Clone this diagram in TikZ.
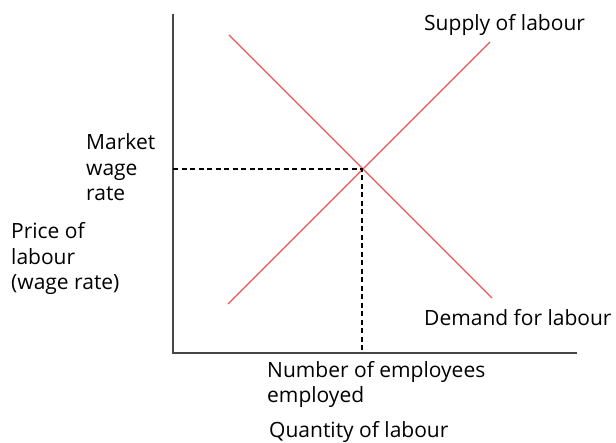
\documentclass[tikz,border=0pt]{standalone}
\usepackage{fontspec}
\setmainfont{Open Sans}
\usepackage{xcolor}
\usetikzlibrary{positioning}
\definecolor{labourred}{RGB}{232,86,86}
\definecolor{axisgray}{RGB}{70,70,70}

\begin{document}
\begin{tikzpicture}[x=1pt,y=-1pt,
	curve/.style={labourred,line width=1.3pt},
	axisline/.style={axisgray,line width=1.8pt},
	guide/.style={black,line width=1.2pt,dash pattern=on 5pt off 3.5pt},
	lbl/.style={anchor=base west,inner sep=0pt,align=left,
		font=\fontsize{21}{25.5}\selectfont}]
	\useasboundingbox (0,0) rectangle (616,443);
	% axes
	\coordinate (top) at (173,14);
	\coordinate (origin) at (173,353);
	\coordinate (right) at (577,353);
	\draw[axisline] (top)--(origin)--(right);
	% demand and supply
	\coordinate (dstart) at (229,35);
	\coordinate (dend) at (492,298);
	\coordinate (sstart) at (228,304);
	\coordinate (send) at (490,42);
	\draw[curve] (dstart)--(dend);
	\draw[curve] (sstart)--(send);
	\coordinate (eq) at (362,169);
	\coordinate (wage) at (173,169);
	\coordinate (qty) at (362,353);
	\draw[guide] (wage)--(eq)--(qty);
	% labels (base = last line)
	\node[lbl] (supply) at (424,31) {Supply of labour};
	\node[lbl] (demand) at (424,326) {Demand for labour};
	\node[lbl] (market) at (86,201) {Market\\wage\\rate};
	\node[lbl] (price) at (11,290) {Price of\\labour\\(wage rate)};
	\node[lbl] (number) at (267,403) {Number of employees\\employed};
	\node[lbl] (quantity) at (269,438) {Quantity of labour};
\end{tikzpicture}
\end{document}
